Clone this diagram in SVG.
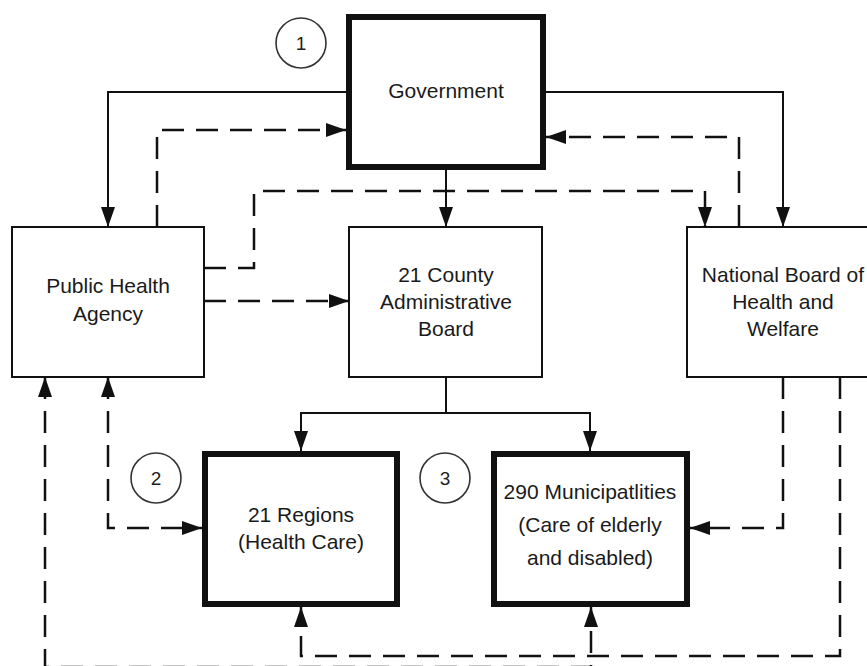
<svg xmlns="http://www.w3.org/2000/svg" width="867" height="666" viewBox="0 0 867 666">
<style>
.box{fill:#fff;stroke:#111;stroke-width:2}
.thick{fill:#fff;stroke:#111;stroke-width:6}
.lbl{font-family:"Liberation Sans",Arial,sans-serif;font-size:21px;fill:#1a1a1a;text-anchor:middle}
.num{font-family:"Liberation Sans",Arial,sans-serif;font-size:19px;fill:#1e1e1e;text-anchor:middle}
.circ{fill:#fff;stroke:#333;stroke-width:1.6}
.solid{fill:none;stroke:#111;stroke-width:2;marker-end:url(#ah)}
.dash{fill:none;stroke:#111;stroke-width:2.5;stroke-dasharray:22 12;marker-end:url(#ah)}
</style>
<defs>
<marker id="ah" markerUnits="userSpaceOnUse" markerWidth="20" markerHeight="14" viewBox="0 0 20 14" refX="20" refY="7" orient="auto-start-reverse">
<path d="M0,0 L20,7 L0,14 z" fill="#111"/>
</marker>
</defs>
<rect width="867" height="666" fill="#fff"/>
<g id="connectors">
<path class="solid" d="M346,92 H108 V227"/>
<path class="solid" d="M546,92 H783 V227"/>
<path class="solid" d="M446,170 V227"/>
<path class="dash" d="M157,227 V130 H346"/>
<path class="dash" d="M739,227 V137 H546"/>
<path class="dash" d="M204,268 H254 V191 H705 V227"/>
<path class="dash" d="M204,301 H349"/>
<path class="solid" d="M446,377 V413 H301 V451"/>
<path class="solid" d="M446,413 H590 V451"/>
<path class="dash" style="marker-start:url(#ah)" d="M108,377 V528 H202"/>
<path class="dash" d="M783,377 V528 H690"/>
<path class="dash" d="M840,377 V656 H301 V607"/>
<path class="dash" style="marker-start:url(#ah)" d="M45,377 V667 H591 V607"/>
<path d="M584,588 L596,588 L590,602 z" fill="#111"/>
</g>
<g id="government">
<rect class="thick" x="349" y="17" width="194" height="150"/>
<text class="lbl" x="446" y="98">Government</text>
</g>
<g id="public-health-agency">
<rect class="box" x="12" y="227" width="192" height="150"/>
<text class="lbl" x="108" y="293">Public Health</text>
<text class="lbl" x="108" y="321">Agency</text>
</g>
<g id="county-board">
<rect class="box" x="349" y="227" width="193" height="150"/>
<text class="lbl" x="446" y="282">21 County</text>
<text class="lbl" x="446" y="309">Administrative</text>
<text class="lbl" x="446" y="336">Board</text>
</g>
<g id="national-board">
<rect class="box" x="687" y="227" width="193" height="150"/>
<text class="lbl" x="783" y="282">National Board of</text>
<text class="lbl" x="783" y="309">Health and</text>
<text class="lbl" x="783" y="336">Welfare</text>
</g>
<g id="regions">
<rect class="thick" x="205" y="454" width="192" height="150"/>
<text class="lbl" x="301" y="522">21 Regions</text>
<text class="lbl" x="301" y="549">(Health Care)</text>
</g>
<g id="municipalities">
<rect class="thick" x="494" y="454" width="193" height="150"/>
<text class="lbl" x="590" y="499">290 Municipatlities</text>
<text class="lbl" x="590" y="532">(Care of elderly</text>
<text class="lbl" x="590" y="565">and disabled)</text>
</g>
<g id="marker-1">
<circle class="circ" cx="301" cy="43" r="25"/>
<text class="num" x="301" y="50">1</text>
</g>
<g id="marker-2">
<circle class="circ" cx="156" cy="478" r="25"/>
<text class="num" x="156" y="485">2</text>
</g>
<g id="marker-3">
<circle class="circ" cx="445" cy="478" r="25"/>
<text class="num" x="445" y="485">3</text>
</g>
</svg>
